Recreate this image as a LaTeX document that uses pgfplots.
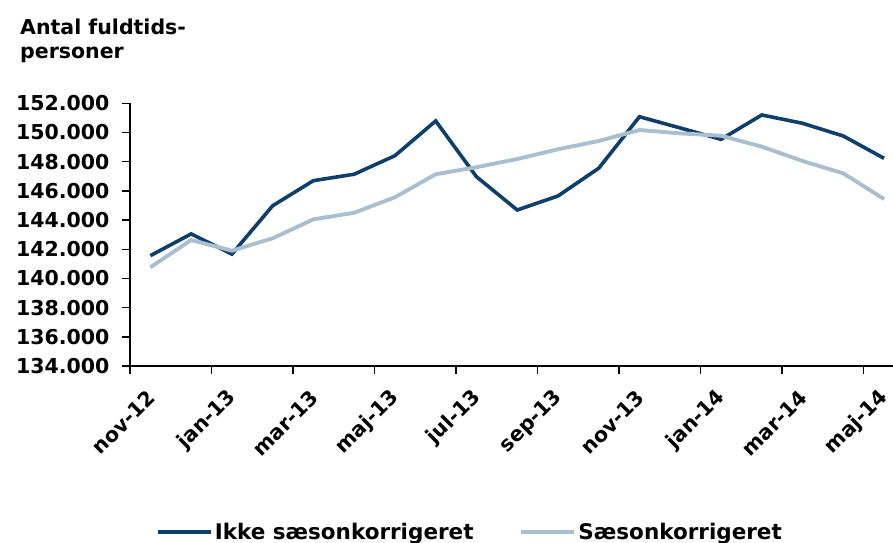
\documentclass[border=0pt]{standalone}
\usepackage{fontspec}
\setmainfont{DejaVu Sans}
\usepackage{pgfplots}
\pgfplotsset{compat=1.18}

\definecolor{navy}{HTML}{0E3F6B}
\definecolor{paleblue}{HTML}{A9BFD0}

\begin{document}
\begin{tikzpicture}
\begin{axis}[
    at={(0,0)}, anchor=south west,
    scale only axis,
    width=763bp, height=262.7bp,
    axis lines*=left,
    axis line style={line width=1.4bp, black},
    xmin=-0.5, xmax=18.22,
    ymin=134000, ymax=152000,
    scaled y ticks=false,
    ytick={134000,136000,...,152000},
    yticklabels={134.000,136.000,138.000,140.000,142.000,144.000,146.000,148.000,150.000,152.000},
    tick align=outside,
    major tick length=8bp,
    minor tick length=8bp,
    tick style={line width=1.4bp, black},
    xtick={0,2,...,18},
    xticklabels={nov-12,jan-13,mar-13,maj-13,jul-13,sep-13,nov-13,jan-14,mar-14,maj-14},
    minor xtick={-0.5,1.5,...,17.5},
    every major x tick/.append style={draw=none},
    every tick label/.append style={font=\bfseries\fontsize{20.5bp}{24bp}\selectfont},
    xticklabel style={rotate=45, anchor=east, xshift=-10bp, yshift=-15bp},
    yticklabel style={xshift=-9bp},
    legend style={at={(0.4456,-0.632)}, anchor=center, draw=none, fill=none,
        legend columns=2,
        font=\bfseries\fontsize{21.5bp}{24bp}\selectfont,
        /tikz/every even column/.append style={column sep=44bp}},
    legend image code/.code={\draw[#1] (0bp,0bp) -- (53bp,0bp);},
]
\addplot[navy, line width=3.6bp] coordinates {
(0,141560) (1,143050) (2,141670) (3,144980) (4,146700) (5,147140) (6,148410)
(7,150790) (8,146970) (9,144690) (10,145650) (11,147550) (12,151080) (13,150310)
(14,149530) (15,151200) (16,150630) (17,149760) (18,148230)};
\addlegendentry{Ikke sæsonkorrigeret}
\addplot[paleblue, line width=3.9bp] coordinates {
(0,140760) (1,142630) (2,141900) (3,142750) (4,144050) (5,144500) (6,145560)
(7,147140) (8,147620) (9,148180) (10,148850) (11,149420) (12,150170) (13,149940)
(14,149780) (15,149030) (16,148050) (17,147200) (18,145440)};
\addlegendentry{Sæsonkorrigeret}
\end{axis}
\node[anchor=north west, align=left, inner sep=0pt,
      font=\bfseries\fontsize{20.5bp}{24bp}\selectfont] at (-110bp,347bp)
      {Antal fuldtids-\\personer};
\pgfresetboundingbox
\path[use as bounding box] (-130bp,-177bp) rectangle (763bp,366bp);
\end{tikzpicture}
\end{document}
